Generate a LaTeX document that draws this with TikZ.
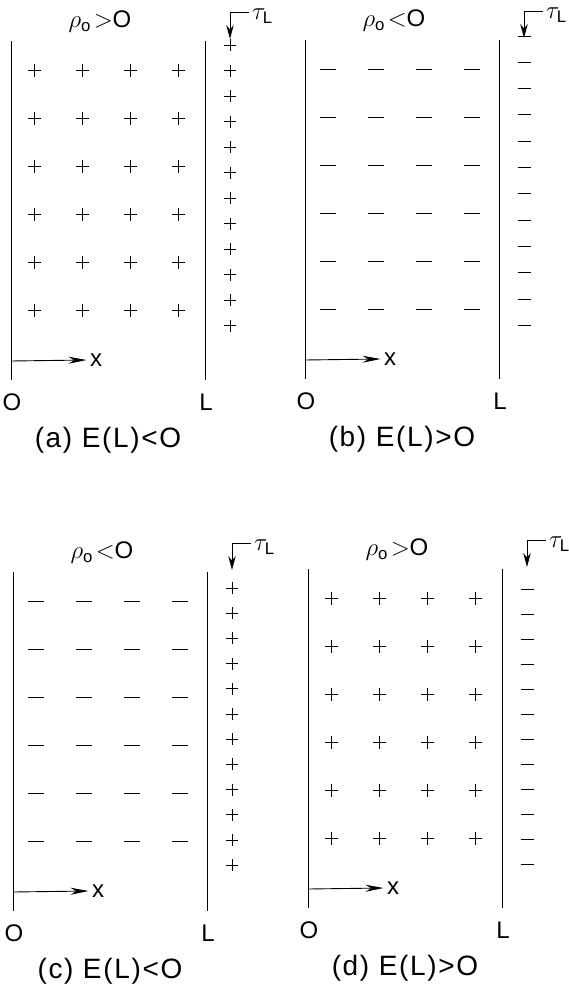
\documentclass[tikz,border=0pt]{standalone}
\usepackage{fontspec}
\setmainfont{Liberation Sans}
\usetikzlibrary{arrows.meta}

% one slab with its volume charge and the surface charge at x = L
\newcommand\chargepanel[9]{%
  \begin{scope}[shift={(#1,#2)}]
    \draw[wall] (0,-29) -- (0,310);
    \draw[wall] (194,-29) -- (194,310);
    \foreach \cx in {23,71,119,167}
      \foreach \cy in {0,48,...,240}
        \pic at (\cx,\cy) {#3};
    \foreach \k in {0,...,11}
      \pic at (219,{#7+\k*#8}) {#4};
    \coordinate (#9tl) at (238,-58);
    \coordinate (#9tc) at (219,-58);
    \coordinate (#9tb) at (219,-31);
    \draw[tauarr] (#9tl) -- (#9tc) -- (#9tb);
    \node[anchor=west, inner sep=0pt] (#9tau) at (241,-54) {$\tau_{\mathrm{L}}$};
    \node (#9title) at (89,-48) {#5};
    \node (#9x) at (85,290) {x};
    \coordinate (#9ax) at (0,291);
    \draw[axarr] (#9ax) -- (#9x.west);
    \node (#9o) at (1,332) {O};
    \node (#9l) at (195,332) {L};
    \node[capt] (#9cap) at (97,370) {#6};
  \end{scope}}

\begin{document}
\begin{tikzpicture}[
    x=1pt, y=-1pt,
    font=\fontsize{24}{28}\selectfont,
    wall/.style={line width=0.9pt},
    mk/.style={line width=0.9pt},
    capt/.style={font=\fontsize{28}{32}\selectfont\addfontfeatures{LetterSpace=6}},
    tauarr/.style={line width=1pt, -{Stealth[length=14pt,width=7.5pt]}},
    axarr/.style={line width=0.9pt, -{Stealth[length=18pt,width=7pt]}},
    pluschg/.pic={\draw[mk] (-6.5,0) -- (6.5,0) (0,-6.5) -- (0,6.5);},
    minuschg/.pic={\draw[mk] (-8,0) -- (8,0);},
    plussurf/.pic={\draw[mk] (-6,0) -- (6,0) (0,-6) -- (0,6);},
    minussurf/.pic={\draw[mk] (-6.5,0) -- (6.5,0);},
]
\useasboundingbox (0,0) rectangle (569,991);

\chargepanel{11}{70}{pluschg}{plussurf}{$\rho_{\mathrm{o}}\!>$O}{(a) E(L)<O}{-25}{25.5}{a}
\chargepanel{305}{69}{minuschg}{minussurf}{$\rho_{\mathrm{o}}\!<$O}{(b) E(L)>O}{-33}{26.3}{b}
\chargepanel{13}{601}{minuschg}{plussurf}{$\rho_{\mathrm{o}}\!<$O}{(c) E(L)<O}{-13}{25.2}{c}
\chargepanel{308}{598}{pluschg}{minussurf}{$\rho_{\mathrm{o}}\!>$O}{(d) E(L)>O}{-9}{25}{d}
\end{tikzpicture}
\end{document}
